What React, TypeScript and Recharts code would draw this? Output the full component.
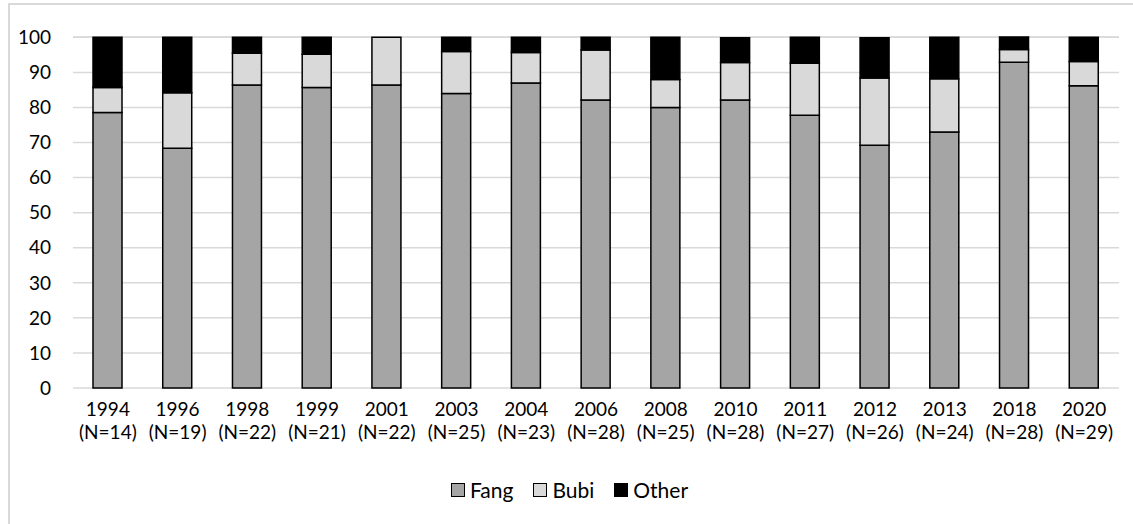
import { Bar, BarChart, CartesianGrid, Legend, XAxis, YAxis } from 'recharts';

const years = ['1994', '1996', '1998', '1999', '2001', '2003', '2004', '2006', '2008', '2010', '2011', '2012', '2013', '2018', '2020'];
const sampleSizes = [14, 19, 22, 21, 22, 25, 23, 28, 25, 28, 27, 26, 24, 28, 29];
const fang = [78.6, 68.4, 86.4, 85.7, 86.4, 84.0, 87.0, 82.1, 80.0, 82.1, 77.8, 69.2, 73.0, 92.9, 86.2];
const bubi = [7.1, 15.8, 9.1, 9.5, 13.6, 12.0, 8.7, 14.3, 8.0, 10.7, 14.8, 19.2, 15.2, 3.6, 6.9];
const other = [14.3, 15.8, 4.5, 4.8, 0, 4.0, 4.3, 3.6, 12.0, 7.1, 7.4, 11.5, 11.8, 3.6, 6.9];
const yTicks = [0, 10, 20, 30, 40, 50, 60, 70, 80, 90, 100];

const FONT = 'Lato, "Open Sans", sans-serif';

const data = years.map((y, i) => ({
  year: y,
  n: sampleSizes[i],
  Fang: fang[i],
  Bubi: bubi[i],
  Other: other[i],
}));

const legendItems = [
  { name: 'Fang', color: '#a5a5a5' },
  { name: 'Bubi', color: '#d9d9d9' },
  { name: 'Other', color: '#000000' },
];

const YearTick = (props: any) => {
  const { x, y, payload, index } = props;
  return (
    <g transform={`translate(${x},${y})`}>
      <text textAnchor="middle" fontFamily={FONT} fontSize={19} fill="#000">
        <tspan x={0} dy={20}>{payload.value}</tspan>
        <tspan x={0} dy={23}>{`(N=${sampleSizes[index]})`}</tspan>
      </text>
    </g>
  );
};

const LegendBox = () => (
  <div style={{ display: 'flex', justifyContent: 'center', gap: 20, fontFamily: FONT, fontSize: 21, paddingLeft: 10 }}>
    {legendItems.map((it) => (
      <div key={it.name} style={{ display: 'flex', alignItems: 'center', gap: 5 }}>
        <span style={{ width: 12, height: 12, background: it.color, border: '1.5px solid #000', display: 'inline-block' }} />
        <span>{it.name}</span>
      </div>
    ))}
  </div>
);

const App = () => {
  return (
    <div
      style={{
        position: 'absolute',
        left: 8,
        top: 3,
        width: 1200,
        height: 560,
        borderLeft: '2px solid #d9d9d9',
        borderTop: '2px solid #d9d9d9',
        background: '#fff',
      }}
    >
      <BarChart
        width={1123}
        height={518}
        data={data}
        margin={{ top: 32, right: 14, left: 0, bottom: 0 }}
        barSize={29}
      >
        <CartesianGrid vertical={false} stroke="#d9d9d9" strokeWidth={1.5} />
        <XAxis
          dataKey="year"
          axisLine={false}
          tickLine={false}
          interval={0}
          height={110}
          tick={<YearTick />}
        />
        <YAxis
          domain={[0, 100]}
          ticks={yTicks}
          width={63}
          axisLine={false}
          tickLine={false}
          tickMargin={16}
          tick={{ fontFamily: FONT, fontSize: 19, fill: '#000' }}
        />
        <Legend content={<LegendBox />} wrapperStyle={{ top: 472 }} />
        <Bar dataKey="Fang" stackId="a" fill="#a5a5a5" stroke="#000" strokeWidth={1.5} isAnimationActive={false} />
        <Bar dataKey="Bubi" stackId="a" fill="#d9d9d9" stroke="#000" strokeWidth={1.5} isAnimationActive={false} />
        <Bar dataKey="Other" stackId="a" fill="#000000" stroke="#000" strokeWidth={1.5} isAnimationActive={false} />
      </BarChart>
    </div>
  );
};

export default App;
